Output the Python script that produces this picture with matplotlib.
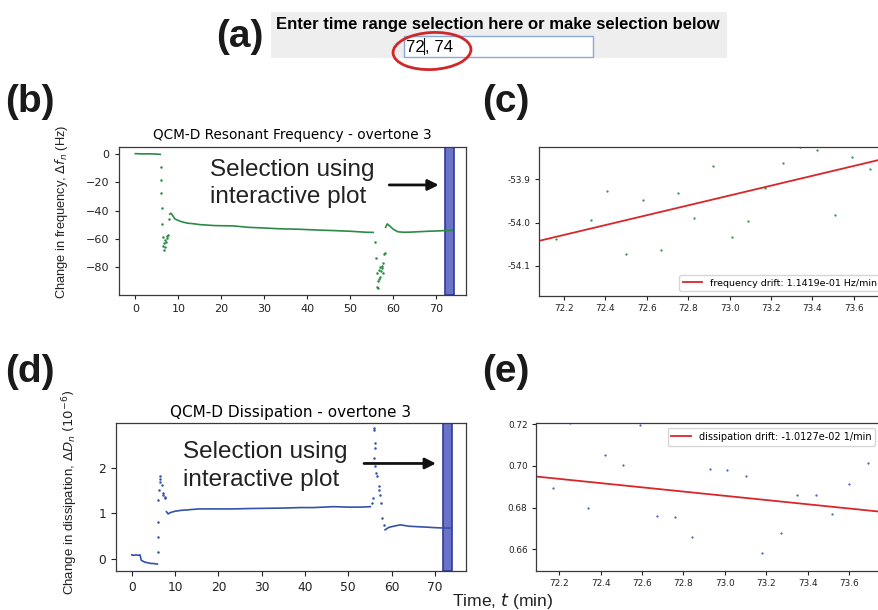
import numpy as np
import matplotlib
matplotlib.use('Agg')
import matplotlib.pyplot as plt
from matplotlib.patches import Rectangle, Ellipse
from matplotlib.ticker import FormatStrFormatter

# ---- data ----
# (b) frequency shift, overtone 3 (Hz) vs time (min)
freq_seg_t = [0, 1, 2, 3, 4, 5, 5.8, np.nan,
              8.0, 8.3, 8.7, 9.2, 10.0, 10.7, 12.0, 13.8, 15.0, 18.5, 22.7, 26.2, 30.0, 34.0,
              38.3, 42.0, 46.0, 50.0, 53.8, 55.3, np.nan,
              58.2, 58.6, 59.2, 60.0, 61.1, 62.5, 64.0, 66.0, 68.0, 70.0, 72.0, 73.0, 73.7]
freq_seg_v = [0.2, 0.1, 0.0, 0.1, 0.0, -0.1, -0.3, np.nan,
              -42.5, -41.9, -43.5, -45.9, -47.0, -47.8, -48.8, -49.4, -49.9, -50.6, -50.8, -51.8, -52.3, -52.9,
              -53.2, -53.7, -54.1, -54.6, -55.3, -55.4, np.nan,
              -51.8, -49.4, -51.0, -53.2, -55.0, -55.3, -55.2, -54.9, -54.6, -54.4, -54.1, -54.0, -53.9]
freq_pts_t = [5.86, 5.95, 6.05, 6.15, 6.25, 6.45, 6.5, 6.6, 6.75, 6.85, 7.0, 7.15, 7.3, 7.45, 7.6, 7.8,
              55.7, 55.9, 56.1, 56.3, 56.35, 56.5, 56.6, 56.7, 56.9, 57.0, 57.1, 57.3, 57.4, 57.5, 57.7, 57.9, 58.0]
freq_pts_v = [-9, -18.4, -27.8, -38.3, -49.6, -58.4, -65, -63, -67.8, -65.5, -61, -62, -58, -59.6, -57.5, -45.7,
              -62.3, -73.6, -84.2, -93.7, -95, -90, -88, -82, -86.6, -80, -83, -80.7, -79, -84, -77, -70.6, -70]

# (d) dissipation shift, overtone 3 (1e-6) vs time (min)
diss_seg_t = [0, 0.5, 1.0, 1.5, 1.9, 2.2, 2.6, 3.0, 3.5, 4.0, 4.5, 5.0, 5.5, 5.9, np.nan,
              8.0, 8.4, 8.9, 10.0, 11.5, 13.0, 15.4, 20.0, 23.0, 28.0, 35.4, 38.9, 42.0, 46.6, 50.0, 53.0, 55.1, np.nan,
              58.5, 59.3, 60.0, 62.0, 64.0, 65.9, 68.0, 69.7, 72.0, 73.6]
diss_seg_v = [0.09, 0.08, 0.09, 0.08, 0.09, -0.03, -0.05, -0.07, -0.08, -0.09, -0.10, -0.10, -0.11, -0.11, np.nan,
              1.04, 0.99, 1.02, 1.05, 1.07, 1.08, 1.10, 1.10, 1.10, 1.11, 1.12, 1.13, 1.13, 1.15, 1.14, 1.14, 1.15, np.nan,
              0.64, 0.69, 0.71, 0.75, 0.72, 0.71, 0.70, 0.69, 0.68, 0.68]
diss_pts_t = [6.0, 6.05, 6.1, 6.15, 6.25, 6.4, 6.5, 6.6, 6.9, 7.1, 7.3, 7.6, 7.7,
              55.5, 55.7, 55.85, 56.0, 56.05, 56.1, 56.15, 56.2, 56.5, 56.7, 57.0, 57.2, 57.4, 57.6, 57.9, 58.2]
diss_pts_v = [0.16, 0.49, 0.82, 1.30, 1.52, 1.75, 1.82, 1.70, 1.63, 1.45, 1.41, 1.37, 1.33,
              1.23, 1.34, 2.22, 2.87, 2.83, 2.55, 2.45, 2.04, 1.89, 1.82, 1.60, 1.52, 1.41, 1.23, 0.90, 0.75]

# selected time range
sel_range = [72, 74]

# (c) zoom on selection, frequency
sel_freq_t = [72.16, 72.33, 72.41, 72.50, 72.58, 72.67, 72.75, 72.83, 72.92,
              73.01, 73.09, 73.17, 73.26, 73.34, 73.42, 73.51, 73.59, 73.68]
sel_freq_v = [-54.037, -53.994, -53.927, -54.073, -53.948, -54.064, -53.932, -53.990, -53.869,
              -54.033, -53.996, -53.921, -53.863, -53.826, -53.832, -53.983, -53.848, -53.877]
freq_drift = 0.11419          # Hz/min
freq_fit_at_72 = -54.0515

# (e) zoom on selection, dissipation
sel_diss_t = [72.17, 72.25, 72.34, 72.42, 72.51, 72.59, 72.67, 72.76, 72.84, 72.93,
              73.01, 73.10, 73.18, 73.27, 73.35, 73.44, 73.52, 73.60, 73.69]
sel_diss_v = [0.6896, 0.7205, 0.6797, 0.7051, 0.7003, 0.7197, 0.6760, 0.6757, 0.6661, 0.6984,
              0.6979, 0.6952, 0.6581, 0.6680, 0.6861, 0.6859, 0.6771, 0.6912, 0.7013]
diss_drift = -0.010127        # 1/min
diss_fit_at_72 = 0.69575

green = '#2b8a45'
blue = '#3452a8'
red = '#d8262a'
band_fc = '#6b73c6'
band_ec = '#2d3b9c'
sans = ['Liberation Sans', 'DejaVu Sans']

W, H = 879, 610
fig = plt.figure(figsize=(W / 100, H / 100), dpi=100)


def px_axes(left, top, right, bottom):
    return fig.add_axes([left / W, 1 - bottom / H, (right - left) / W, (bottom - top) / H])


def style_axes(ax, fs):
    for s in ax.spines.values():
        s.set_color('#3a3a3a')
        s.set_linewidth(0.9)
    ax.tick_params(labelsize=fs, length=fs * 0.4, width=0.8, colors='#222222')


# ---- (b) frequency ----
ax_b = px_axes(119, 147, 466, 295)
ax_b.axvspan(*sel_range, facecolor=band_fc, edgecolor=band_ec, lw=1.2, zorder=1)
ax_b.plot(freq_seg_t, freq_seg_v, '-', color=green, lw=1.2, zorder=2)
ax_b.plot(freq_pts_t, freq_pts_v, '.', color=green, ms=1.6, zorder=2)
ax_b.set_xlim(-3.8, 76.9)
ax_b.set_ylim(-99.6, 4.9)
ax_b.set_xticks(range(0, 71, 10))
ax_b.set_yticks([0, -20, -40, -60, -80])
ax_b.set_title('QCM-D Resonant Frequency - overtone 3', fontsize=9.8, pad=5.5)
style_axes(ax_b, 8)
ax_b.text(17.3, -15.5, 'Selection using', fontsize=17.5, family=sans, va='baseline', color='#222222')
ax_b.text(17.3, -34.8, 'interactive plot', fontsize=17.5, family=sans, va='baseline', color='#222222')
ax_b.annotate('', xy=(71.2, -21.9), xytext=(58.4, -21.9),
              arrowprops=dict(arrowstyle='-|>', color='#111111', lw=2, mutation_scale=16))

# ---- (c) frequency in selection ----
ax_c = px_axes(539, 147, 885, 296)
ax_c.plot(sel_freq_t, sel_freq_v, '.', color=green, ms=1.2)
fit_t = np.array(sel_range, dtype=float)
ax_c.plot(fit_t, freq_fit_at_72 + freq_drift * (fit_t - 72), color=red, lw=1.3,
          label='frequency drift: %.4e Hz/min' % freq_drift)
ax_c.set_xlim(72.08, 73.75)
ax_c.set_ylim(-54.17, -53.825)
ax_c.set_xticks(np.arange(72.2, 73.75, 0.2))
ax_c.set_yticks([-54.1, -54.0, -53.9])
ax_c.xaxis.set_major_formatter(FormatStrFormatter('%.1f'))
ax_c.yaxis.set_major_formatter(FormatStrFormatter('%.1f'))
style_axes(ax_c, 6.4)
ax_c.legend(loc='lower right', fontsize=6.8, frameon=True, fancybox=True, framealpha=0.8)

# ---- (d) dissipation ----
ax_d = px_axes(116, 423, 466, 571)
ax_d.axvspan(*sel_range, facecolor=band_fc, edgecolor=band_ec, lw=1.2, zorder=1)
ax_d.plot(diss_seg_t, diss_seg_v, '-', color=blue, lw=1.2, zorder=2)
ax_d.plot(diss_pts_t, diss_pts_v, '.', color=blue, ms=1.6, zorder=2)
ax_d.set_xlim(-3.65, 77.2)
ax_d.set_ylim(-0.265, 2.99)
ax_d.set_xticks(range(0, 71, 10))
ax_d.set_yticks([0, 1, 2])
ax_d.set_title('QCM-D Dissipation - overtone 3', fontsize=11, pad=4)
style_axes(ax_d, 8.8)
ax_d.text(11.9, 2.22, 'Selection using', fontsize=17.5, family=sans, va='baseline', color='#222222')
ax_d.text(11.9, 1.60, 'interactive plot', fontsize=17.5, family=sans, va='baseline', color='#222222')
ax_d.annotate('', xy=(70.9, 2.10), xytext=(53.0, 2.10),
              arrowprops=dict(arrowstyle='-|>', color='#111111', lw=2, mutation_scale=16))

# ---- (e) dissipation in selection ----
ax_e = px_axes(536, 423, 880, 571)
ax_e.plot(sel_diss_t, sel_diss_v, '.', color=blue, ms=1.1)
ax_e.plot(fit_t, diss_fit_at_72 + diss_drift * (fit_t - 72), color=red, lw=1.3,
          label='dissipation drift: %.4e 1/min' % diss_drift)
ax_e.set_xlim(72.087, 73.75)
ax_e.set_ylim(0.6496, 0.7205)
ax_e.set_xticks(np.arange(72.2, 73.75, 0.2))
ax_e.set_yticks([0.66, 0.68, 0.70, 0.72])
ax_e.xaxis.set_major_formatter(FormatStrFormatter('%.1f'))
ax_e.yaxis.set_major_formatter(FormatStrFormatter('%.2f'))
style_axes(ax_e, 6.4)
ax_e.legend(loc='upper right', fontsize=7, frameon=True, fancybox=True, framealpha=0.8)

# ---- overlay: panel (a), panel letters, shared labels ----
ov = fig.add_axes([0, 0, 1, 1], zorder=5)
ov.set_xlim(0, W)
ov.set_ylim(H, 0)
ov.axis('off')
ov.patch.set_alpha(0)

ov.add_patch(Rectangle((271, 12), 456, 46, facecolor='#eeeeee', edgecolor='none'))
ov.add_patch(Rectangle((404, 35.5), 189, 21.5, facecolor='white', edgecolor='#8aa8d8', lw=1))
ov.text(498, 28.5, 'Enter time range selection here or make selection below',
        ha='center', va='baseline', fontsize=12, weight='bold', family=sans)
ov.text(406, 52, '%d, %d' % tuple(sel_range), va='baseline', fontsize=12.2, family=sans)
ov.plot([424.5, 424.5], [38, 54], color='#111111', lw=0.8)
ov.add_patch(Ellipse((432, 51), 78, 37, angle=-3, fill=False, edgecolor='#d02828', lw=2))

for lbl, x, y in [('(a)', 216, 37), ('(b)', 5, 102), ('(c)', 482, 102), ('(d)', 5, 372), ('(e)', 482, 372)]:
    ov.text(x, y, lbl, fontsize=28, weight='bold', family=sans, va='center', ha='left', color='#1a1a1a')

ov.text(62, 212, r'Change in frequency, $\Delta f_n$ (Hz)', rotation=90, ha='center', va='center',
        fontsize=9.3, family=sans, color='#222222')
ov.text(70, 492, r'Change in dissipation, $\Delta D_n$ $(10^{-6})$', rotation=90, ha='center', va='center',
        fontsize=9.5, family=sans, color='#222222')
ov.text(452, 606, r'Time, $t$ (min)', va='baseline', fontsize=12.6, family=sans, color='#222222')

fig.savefig('out.png', dpi=100)
